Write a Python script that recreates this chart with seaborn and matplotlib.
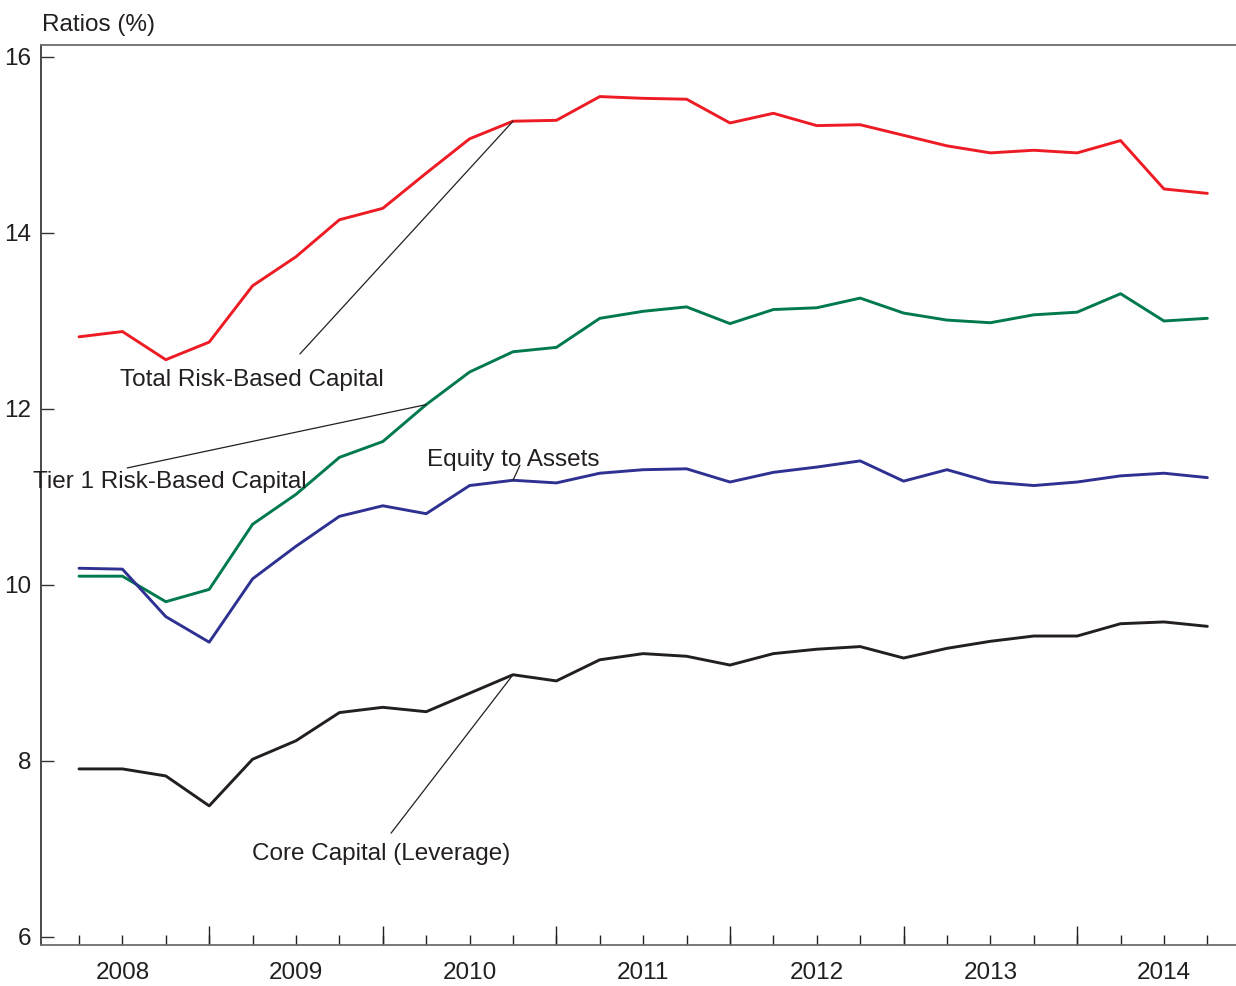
import numpy as np
import pandas as pd
import matplotlib
matplotlib.use("Agg")
import matplotlib.pyplot as plt
import seaborn as sns
from matplotlib.ticker import FixedLocator

# ---- data ----
quarters = [f"{y}Q{q}" for y in range(2008, 2015) for q in range(1, 5)][:27]
year_labels = ["2008", "2009", "2010", "2011", "2012", "2013", "2014"]

total_rbc = [12.82, 12.88, 12.56, 12.76, 13.40, 13.73, 14.15, 14.28, 14.68, 15.07,
             15.27, 15.28, 15.55, 15.53, 15.52, 15.25, 15.36, 15.22, 15.23, 15.11,
             14.99, 14.91, 14.94, 14.91, 15.05, 14.50, 14.45]
tier1_rbc = [10.10, 10.10, 9.81, 9.95, 10.69, 11.03, 11.45, 11.63, 12.05, 12.42,
             12.65, 12.70, 13.03, 13.11, 13.16, 12.97, 13.13, 13.15, 13.26, 13.09,
             13.01, 12.98, 13.07, 13.10, 13.31, 13.00, 13.03]
equity_assets = [10.19, 10.18, 9.64, 9.35, 10.07, 10.44, 10.78, 10.90, 10.81, 11.13,
                 11.19, 11.16, 11.27, 11.31, 11.32, 11.17, 11.28, 11.34, 11.41, 11.18,
                 11.31, 11.17, 11.13, 11.17, 11.24, 11.27, 11.22]
core_capital = [7.91, 7.91, 7.83, 7.49, 8.02, 8.23, 8.55, 8.61, 8.56, 8.77,
                8.98, 8.91, 9.15, 9.22, 9.19, 9.09, 9.22, 9.27, 9.30, 9.17,
                9.28, 9.36, 9.42, 9.42, 9.56, 9.58, 9.53]

series_names = ["Total Risk-Based Capital", "Tier 1 Risk-Based Capital",
                "Equity to Assets", "Core Capital (Leverage)"]
series_vals = [total_rbc, tier1_rbc, equity_assets, core_capital]
colors = ["#ED1C24", "#00794C", "#2E3192", "#231F20"]

xpos = np.arange(1, len(quarters) + 1)
df = pd.concat([pd.DataFrame({"x": xpos, "value": v, "series": n})
                for n, v in zip(series_names, series_vals)], ignore_index=True)

# ---- plot ----
sns.set_style("white")
plt.rcParams["font.family"] = ["Liberation Sans", "DejaVu Sans"]
FS = 17.5

fig = plt.figure(figsize=(12.36, 9.86), dpi=100)
ax = fig.add_axes([41 / 1236, 1 - 945 / 986, 1 - 41 / 1236, (945 - 45) / 986])

sns.lineplot(data=df, x="x", y="value", hue="series", palette=dict(zip(series_names, colors)),
             linewidth=2.1, legend=False, ax=ax)

ax.set_xlim(0.124, 27.66)
ax.set_ylim(5.909, 16.136)
ax.set_xlabel("")
ax.set_ylabel("")

# spines
for s in ["top", "left", "bottom"]:
    ax.spines[s].set_visible(True)
    ax.spines[s].set_linewidth(1.3)
ax.spines["right"].set_visible(False)
ax.spines["top"].set_color("#6d6d6d")
ax.spines["bottom"].set_color("#6d6d6d")
ax.spines["left"].set_color("#3a3a3a")

# y ticks
ax.set_yticks([6, 8, 10, 12, 14, 16])
ax.set_yticklabels(["6", "8", "10", "12", "14", "16"])
ax.tick_params(axis="y", direction="in", length=9, width=1, color="#333333",
               labelsize=FS, pad=7, labelcolor="#231F20", left=True)

# x ticks: quarterly short ticks, long ticks at year ends, year labels mid-year
xlabels = []
for i in xpos:
    if (i - 2) % 4 == 0:
        xlabels.append(year_labels[(i - 2) // 4])
    else:
        xlabels.append("")
ax.xaxis.set_major_locator(FixedLocator(xpos))
ax.set_xticklabels(xlabels)
ax.xaxis.set_minor_locator(FixedLocator([4, 8, 12, 16, 20, 24]))
ax.xaxis.remove_overlapping_locs = False
ax.tick_params(axis="x", which="major", direction="in", length=7.5, width=1,
               color="#231F20", labelsize=FS, pad=12, labelcolor="#231F20", bottom=True)
ax.tick_params(axis="x", which="minor", direction="in", length=13.5, width=1,
               color="#231F20", bottom=True)

# axis title
ax.text(0.0005, 1 + 20 / 900, "Ratios (%)", transform=ax.transAxes, fontsize=FS,
        color="#231F20", ha="left", va="center")

# annotations (anchored on series points)
lw = 0.9
def label(text, idx, vals, line_start, text_pos):
    ax.annotate("", xy=(xpos[idx], vals[idx]), xytext=line_start,
                arrowprops=dict(arrowstyle="-", color="#231F20", lw=lw, shrinkA=0, shrinkB=0))
    ax.text(text_pos[0], text_pos[1], text, fontsize=FS, color="#231F20",
            ha="center", va="center")

label(series_names[0], 10, total_rbc, (6.09, 12.625), (4.99, 12.325))
label(series_names[1], 8, tier1_rbc, (2.11, 11.33), (3.10, 11.175))
label(series_names[2], 10, equity_assets, (11.16, 11.36), (11.0, 11.425))
label(series_names[3], 10, core_capital, (8.19, 7.18), (7.96, 6.945))

fig.savefig("out.png", dpi=100)
